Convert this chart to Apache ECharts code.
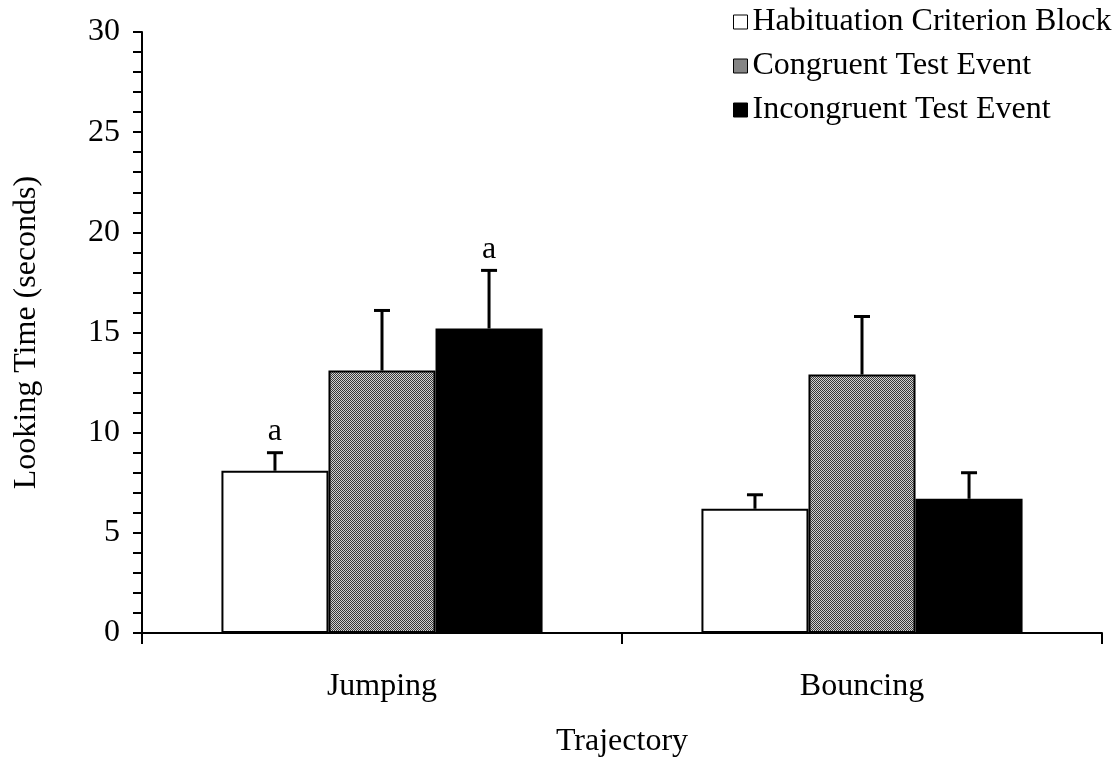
<!DOCTYPE html>
<html>
<head>
<meta charset="utf-8">
<script src="https://cdn.jsdelivr.net/npm/echarts@6/dist/echarts.min.js"></script>
<style>
html,body{margin:0;padding:0;background:#fff;}
#chart{width:1113px;height:759px;}
</style>
</head>
<body>
<div id="chart"></div>
<script>
// ---- data ----
const categories = ['Jumping', 'Bouncing'];
const seriesNames = ['Habituation Criterion Block', 'Congruent Test Event', 'Incongruent Test Event'];
const habituation = [8.1, 6.2];
const congruent = [13.1, 12.9];
const incongruent = [15.2, 6.7];
// upper end of each error bar
const habituationErrTop = [9.0, 6.9];
const congruentErrTop = [16.1, 15.8];
const incongruentErrTop = [18.1, 8.0];
// significance marks above error bars
const habituationMarks = ['a', ''];
const congruentMarks = ['', ''];
const incongruentMarks = ['a', ''];
const yMin = 0, yMax = 30, yInterval = 5;

// ---- styling ----
const FONT = 'Liberation Serif';
const FS = 32;
const BAR_FRAC = 0.223;

function makePattern() {
  const c = document.createElement('canvas');
  c.width = 2; c.height = 2;
  const ctx = c.getContext('2d');
  ctx.fillStyle = '#d2d2d2'; ctx.fillRect(0, 0, 2, 2);
  ctx.fillStyle = '#383838';
  ctx.fillRect(0, 0, 1, 1); ctx.fillRect(1, 1, 1, 1);
  return c;
}
const grayPattern = { image: makePattern(), repeat: 'repeat' };

const values = [habituation, congruent, incongruent];
const errTops = [habituationErrTop, congruentErrTop, incongruentErrTop];
const marks = [habituationMarks, congruentMarks, incongruentMarks];
const fills = ['#ffffff', grayPattern, '#000000'];

const series = [];
values.forEach((vals, i) => {
  series.push({
    name: seriesNames[i],
    type: 'bar',
    data: vals,
    barWidth: (BAR_FRAC * 100) + '%',
    barGap: '0%',
    itemStyle: { color: fills[i], borderColor: '#000', borderWidth: 2 },
    emphasis: { disabled: true },
    z: 2
  });
});
values.forEach((vals, i) => {
  const offset = i - 1;
  series.push({
    name: 'err' + i,
    type: 'custom',
    z: 3,
    data: vals.map((v, k) => [k, v, errTops[i][k]]),
    renderItem: function (params, api) {
      const base = api.coord([api.value(0), api.value(1)]);
      const top = api.coord([api.value(0), api.value(2)]);
      const catW = api.size([1, 0])[0];
      const bw = catW * BAR_FRAC;
      const cx = base[0] + offset * bw;
      const children = [
        { type: 'line', shape: { x1: cx, y1: base[1], x2: cx, y2: top[1] }, style: { stroke: '#000', lineWidth: 3 } },
        { type: 'line', shape: { x1: cx - 8, y1: top[1], x2: cx + 8, y2: top[1] }, style: { stroke: '#000', lineWidth: 3 } }
      ];
      const m = marks[i][params.dataIndex];
      if (m) {
        children.push({
          type: 'text',
          style: { text: m, x: cx, y: top[1] - 5, align: 'center', verticalAlign: 'bottom', fill: '#000', font: FS + 'px "' + FONT + '"' }
        });
      }
      return { type: 'group', children: children };
    }
  });
});

const chart = echarts.init(document.getElementById('chart'), null, { renderer: 'canvas' });
chart.setOption({
  animation: false,
  backgroundColor: '#fff',
  grid: { left: 142, right: 11, top: 32, bottom: 126, containLabel: false, outerBoundsMode: 'none' },
  legend: {
    data: seriesNames,
    orient: 'vertical',
    left: 733,
    top: 6,
    padding: 0,
    itemWidth: 14,
    itemHeight: 14,
    itemGap: 12,
    icon: 'rect',
    selectedMode: false,
    itemStyle: { borderColor: '#000', borderWidth: 1 },
    textStyle: { fontFamily: FONT, fontSize: FS, color: '#000', lineHeight: 30, padding: [0, 0, 0, 0] }
  },
  xAxis: {
    type: 'category',
    data: categories,
    name: 'Trajectory',
    nameLocation: 'middle',
    nameGap: 93,
    nameTextStyle: { fontFamily: FONT, fontSize: FS, color: '#000' },
    axisLine: { lineStyle: { color: '#000', width: 2 } },
    axisTick: { show: true, alignWithLabel: false, length: 11, lineStyle: { color: '#000', width: 2 } },
    axisLabel: { fontFamily: FONT, fontSize: FS, color: '#000', margin: 38 },
    splitLine: { show: false }
  },
  yAxis: {
    type: 'value',
    min: yMin, max: yMax, interval: yInterval,
    name: 'Looking Time (seconds)',
    nameLocation: 'middle',
    nameGap: 99,
    nameRotate: 90,
    nameTextStyle: { fontFamily: FONT, fontSize: FS, color: '#000' },
    axisLine: { show: true, lineStyle: { color: '#000', width: 2 } },
    axisTick: { show: true, length: 9, lineStyle: { color: '#000', width: 2 } },
    minorTick: { show: true, splitNumber: 5, length: 9, lineStyle: { color: '#000', width: 2 } },
    axisLabel: { fontFamily: FONT, fontSize: FS, color: '#000', margin: 22 },
    splitLine: { show: false },
    minorSplitLine: { show: false }
  },
  series: series
});
</script>
</body>
</html>
